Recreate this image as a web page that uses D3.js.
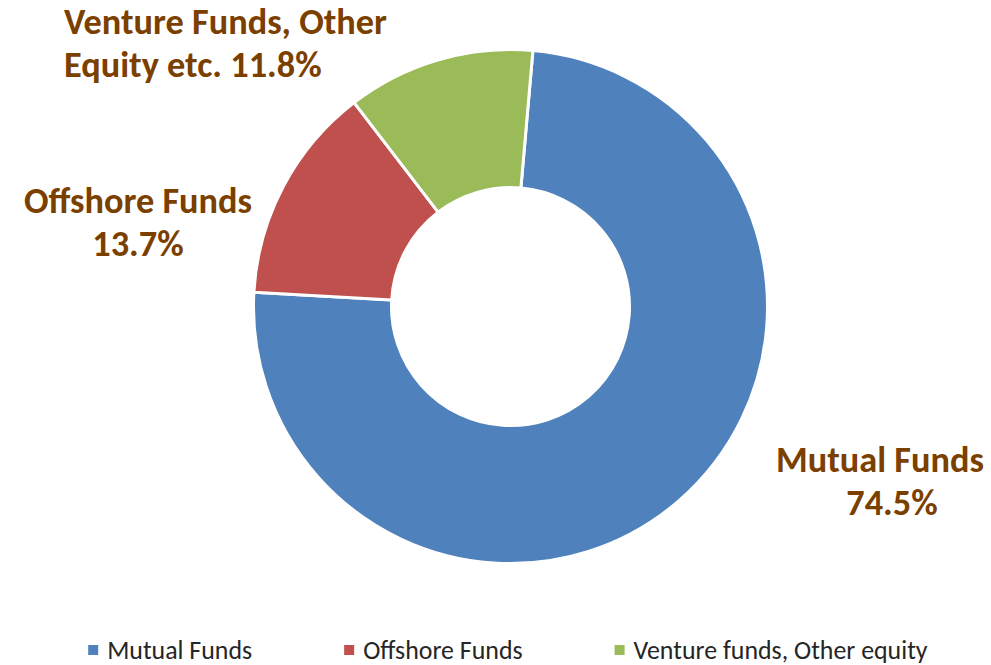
<!DOCTYPE html>
<html>
<head>
<meta charset="utf-8">
<script src="https://cdn.jsdelivr.net/npm/d3@7"></script>
<style>
  body { margin: 0; background: #fff; }
  text { font-family: Carlito, Calibri, "Open Sans", sans-serif; }
</style>
</head>
<body>
<svg id="chart" width="991" height="665"></svg>
<script>
// data
const categories = ["Mutual Funds", "Offshore Funds", "Venture funds, Other equity"];
const shares = [74.5, 13.7, 11.8];
const labelLines = [
  ["Mutual Funds", "74.5%"],
  ["Offshore Funds", "13.7%"],
  ["Venture Funds, Other", "Equity etc. 11.8%"]
];
const colors = ["#4F81BD", "#C0504D", "#9BBB59"];

// layout
const width = 991, height = 665;
const cx = 510.5, cy = 306.6;
const outerR = 257, innerR = 119;
const startDeg = 5;
const labelColor = "#7B3F00";
const labelLayout = [
  { x: 880, y: 472, anchor: "middle", dx2: 12 },
  { x: 138, y: 213, anchor: "middle", dx2: 0 },
  { x: 64, y: 34, anchor: "start", dx2: 0 }
];

const svg = d3.select("#chart");
const data = categories.map((c, i) => ({ name: c, value: shares[i], i }));

// pick a font size that gives the same text width as the reference
const fitSize = (str, weight, target) => {
  const probe = svg.append("text")
    .style("font-size", "100px")
    .style("font-weight", weight)
    .text(str);
  const w = probe.node().getComputedTextLength();
  probe.remove();
  return (100 * target) / w;
};
const labelSize = fitSize("Mutual Funds", "bold", 208);
const legendSize = fitSize("Mutual Funds", "normal", 145);

const pie = d3.pie()
  .value((d) => d.value)
  .sort(null)
  .startAngle((startDeg * Math.PI) / 180)
  .endAngle((startDeg * Math.PI) / 180 + 2 * Math.PI);

const arc = d3.arc().innerRadius(innerR).outerRadius(outerR);

svg.append("g")
  .attr("transform", `translate(${cx},${cy})`)
  .selectAll("path")
  .data(pie(data))
  .join("path")
  .attr("d", arc)
  .attr("fill", (d) => colors[d.data.i])
  .attr("stroke", "#fff")
  .attr("stroke-width", 3)
  .attr("stroke-linejoin", "round");

// slice labels
const labels = svg.append("g")
  .selectAll("text")
  .data(data)
  .join("text")
  .attr("text-anchor", (d) => labelLayout[d.i].anchor)
  .attr("fill", labelColor)
  .style("font-size", labelSize + "px")
  .style("font-weight", "bold");

labels.each(function (d) {
  const pos = labelLayout[d.i];
  const t = d3.select(this);
  labelLines[d.i].forEach((line, k) => {
    t.append("tspan")
      .attr("x", pos.x + (k === 1 ? pos.dx2 : 0))
      .attr("y", pos.y + k * 43)
      .text(line);
  });
});

// legend
const legendY = 650;
const legend = svg.append("g");
const items = legend.selectAll("g")
  .data(data)
  .join("g");

items.append("rect")
  .attr("width", 10)
  .attr("height", 10)
  .attr("y", legendY - 5)
  .attr("fill", (d) => colors[d.i]);

items.append("text")
  .attr("x", 19)
  .attr("y", legendY)
  .attr("dy", "0.35em")
  .attr("fill", "#262626")
  .style("font-size", legendSize + "px")
  .text((d) => d.name);

// place items side by side, centred under the chart
const gap = 92;
let x = 0;
const offsets = [];
items.each(function () {
  offsets.push(x);
  x += this.getBBox().width + gap;
});
const total = x - gap;
const left = 508 - total / 2;
items.attr("transform", (d, i) => `translate(${left + offsets[i]},0)`);
</script>
</body>
</html>
